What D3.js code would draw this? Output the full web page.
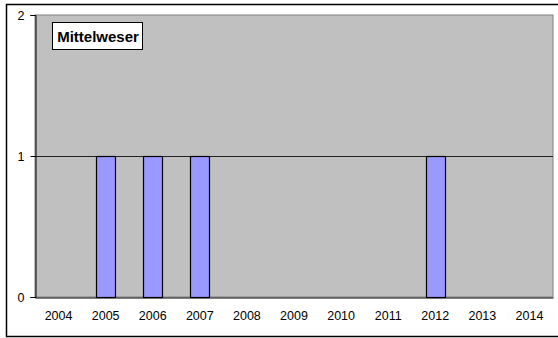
<!DOCTYPE html>
<html><head><meta charset="utf-8">
<script src="https://cdn.jsdelivr.net/npm/d3@7"></script>
<style>body{margin:0;background:#fff}svg{display:block}</style>
</head><body>
<script>
const categories = ["2004","2005","2006","2007","2008","2009","2010","2011","2012","2013","2014"];
const values = [0,1,1,1,0,0,0,0,1,0,0];
const yTicks = [0,1,2];
const title = "Mittelweser";

const W = 558, H = 338;
const m = {left:35, right:5, top:15, bottom:41};
const svg = d3.select("body").append("svg").attr("width", W).attr("height", H);
svg.append("rect").attr("x",6.5).attr("y",4.5).attr("width",560).attr("height",332)
  .attr("fill","#fff").attr("stroke","#000").attr("stroke-width",1.5);

const xb = d3.scaleBand().domain(categories).range([m.left, W - m.right]);
const y = d3.scaleLinear().domain([0,2]).range([H - m.bottom, m.top]);

const g = svg.append("g");
g.append("rect").attr("x", m.left).attr("y", m.top)
  .attr("width", W - m.right - m.left).attr("height", H - m.bottom - m.top)
  .attr("fill", "#c0c0c0").attr("stroke", "#808080").attr("stroke-width", 1);

g.selectAll(".grid").data([1]).enter().append("line")
  .attr("x1", m.left).attr("x2", W - m.right)
  .attr("y1", d => Math.round(y(d)) + 0.5).attr("y2", d => Math.round(y(d)) + 0.5)
  .attr("stroke", "#222").attr("stroke-width", 1);

const bw = 19;
g.selectAll(".bar").data(values.map((v,i)=>({c:categories[i], v}))).enter()
  .filter(d => d.v > 0)
  .append("rect")
  .attr("x", d => Math.round(xb(d.c) + xb.bandwidth()/2 - bw/2) + 0.5)
  .attr("y", d => Math.round(y(d.v)) + 0.5)
  .attr("width", bw)
  .attr("height", d => Math.round(y(0)) - Math.round(y(d.v)))
  .attr("fill", "#9999ff").attr("stroke", "#000").attr("stroke-width", 1.2);

const font = "Arial, Liberation Sans, sans-serif";
const yAxis = d3.axisLeft(y).tickValues(yTicks).tickFormat(d3.format("d")).tickSizeOuter(0).tickSize(5).tickPadding(6);
const ya = svg.append("g").attr("transform", `translate(${m.left+0.5},0)`).call(yAxis);
ya.selectAll("text").attr("font-family",font).attr("font-size",12.5).attr("fill","#000");
ya.selectAll("line").attr("stroke","#000");
ya.select(".domain").attr("stroke","#000");

const xAxis = d3.axisBottom(xb).tickSize(0).tickPadding(14).tickSizeOuter(0);
const xa = svg.append("g").attr("transform", `translate(0,${Math.round(y(0))+0.5})`).call(xAxis);
xa.selectAll("text").attr("font-family",font).attr("font-size",12.5).attr("fill","#000");
xa.select(".domain").attr("stroke","#000");

const tg = svg.append("g");
tg.append("rect").attr("x",52.5).attr("y",22.5).attr("width",90).attr("height",27)
  .attr("fill","#fff").attr("stroke","#000").attr("stroke-width",1);
tg.append("text").attr("x",98).attr("y",42).attr("text-anchor","middle")
  .attr("font-family",font).attr("font-weight","bold").attr("font-size",15)
  .text(title);
</script>
</body></html>
